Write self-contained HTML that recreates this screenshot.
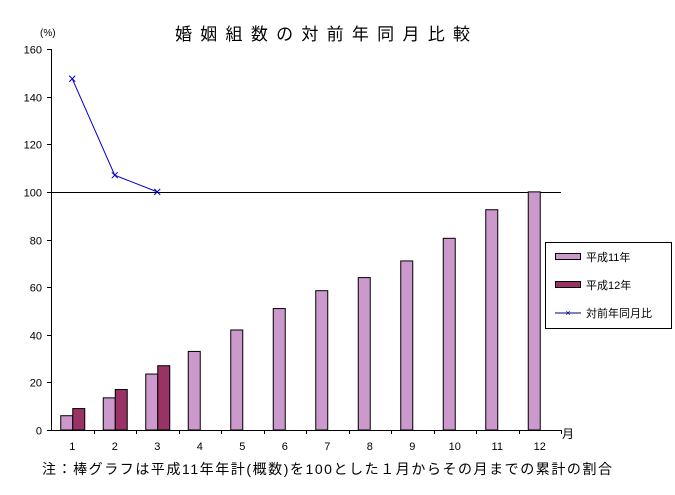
<!DOCTYPE html>
<html><head><meta charset="utf-8"><style>
body{margin:0;background:#fff;}
svg text{font-family:"Liberation Sans","Noto Sans CJK JP",sans-serif;}
</style></head><body>
<svg width="675" height="490" viewBox="0 0 675 490">
<text x="175" y="40" font-size="17" textLength="295" lengthAdjust="spacing">婚姻組数の対前年同月比較</text>
<text x="40" y="36" font-size="10">(%)</text>
<g id="axes"></g>
<g id="marks"></g>
<text x="562" y="438" font-size="12">月</text>
<text x="42" y="474" font-size="14" textLength="570" lengthAdjust="spacing">注：棒グラフは平成11年年計(概数)を100とした１月からその月までの累計の割合</text>
<g>
<rect x="545.5" y="242.5" width="126" height="86" fill="#fff" stroke="#000"/>
<rect x="555.5" y="253.5" width="25" height="6" fill="#cc99cc" stroke="#000"/>
<text x="586" y="261" font-size="11">平成11年</text>
<rect x="555.5" y="281.5" width="25" height="6" fill="#993366" stroke="#000"/>
<text x="586" y="289" font-size="11">平成12年</text>
<line x1="555" y1="313" x2="581" y2="313" stroke="#000080"/>
<text x="568" y="316" font-size="9" fill="#000080" text-anchor="middle">×</text>
<text x="586" y="317" font-size="11">対前年同月比</text>
</g>
</svg>
<script>
const categories=[1,2,3,4,5,6,7,8,9,10,11,12];
const h11=[6,13.5,23.5,33,42,51,58.5,64,71,80.5,92.5,100];
const h12=[9,17,27];
const ratio=[147.5,107,100];
const yTicks=[0,20,40,60,80,100,120,140,160];
const NS="http://www.w3.org/2000/svg";
const x0=51,slot=42.5,yb=430,ys=381/160;
const X=i=>x0+slot*(i+0.5);
const Y=v=>yb-v*ys;
const ax=document.getElementById('axes'),mk=document.getElementById('marks');
function mkEl(t,a,p){const e=document.createElementNS(NS,t);for(const k in a)e.setAttribute(k,a[k]);p.appendChild(e);return e;}
mkEl('line',{x1:x0+.5,y1:Y(160),x2:x0+.5,y2:yb,stroke:'#000'},ax);
mkEl('line',{x1:x0,y1:yb+.5,x2:x0+slot*12,y2:yb+.5,stroke:'#000'},ax);
mkEl('line',{x1:x0,y1:Math.round(Y(100))+.5,x2:x0+slot*12,y2:Math.round(Y(100))+.5,stroke:'#000'},ax);
yTicks.forEach(v=>{
const y=Math.round(Y(v))+.5;
mkEl('line',{x1:x0-4,y1:y,x2:x0,y2:y,stroke:'#000'},ax);
const t=mkEl('text',{x:x0-9,y:y+4,'font-size':11,'text-anchor':'end'},ax);t.textContent=v;


});
categories.forEach((c,i)=>{
const xb=Math.round(x0+slot*(i+1))+.5;
mkEl('line',{x1:xb,y1:yb,x2:xb,y2:yb+4,stroke:'#000'},ax);
const t=mkEl('text',{x:X(i),y:yb+20,'font-size':11,'text-anchor':'middle'},ax);t.textContent=c;


});
h11.forEach((v,i)=>{
const r=mkEl('rect',{x:X(i)-12+.5,y:Y(v),width:12,height:yb-Y(v),fill:'#cc99cc',stroke:'#000'},mk);


});
h12.forEach((v,i)=>{
const r=mkEl('rect',{x:X(i)+.5,y:Y(v),width:12,height:yb-Y(v),fill:'#993366',stroke:'#000'},mk);


});
const pl=mkEl('polyline',{points:ratio.map((v,i)=>X(i)+','+Y(v)).join(' '),fill:'none',stroke:'#0000cc'},mk);


ratio.forEach((v,i)=>{
const g=mkEl('path',{d:`M${X(i)-3},${Y(v)-3}L${X(i)+3},${Y(v)+3}M${X(i)-3},${Y(v)+3}L${X(i)+3},${Y(v)-3}`,stroke:'#0000cc'},mk);


});
</script>
</body></html>
